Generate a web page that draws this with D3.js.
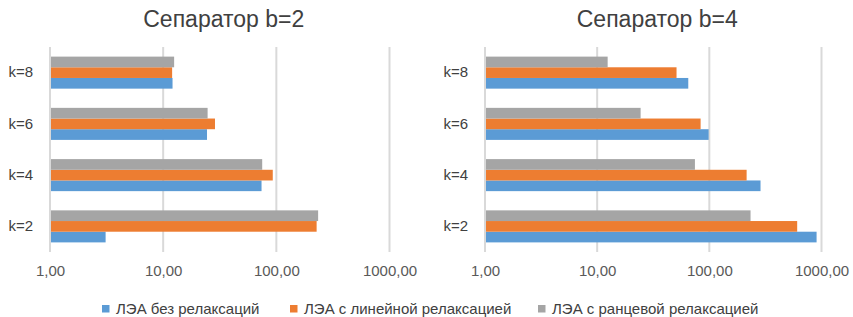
<!DOCTYPE html>
<html>
<head>
<meta charset="utf-8">
<script src="https://cdn.jsdelivr.net/npm/d3@7"></script>
<style>
  body { margin: 0; background: #fff; }
  text { font-family: "Liberation Sans", Arial, sans-serif; }
</style>
</head>
<body>
<div id="chart"></div>
<script>
// data
let categories = ["k=2", "k=4", "k=6", "k=8"];
let seriesNames = ["ЛЭА без релаксаций", "ЛЭА с линейной релаксацией", "ЛЭА с ранцевой релаксацией"];
let tickValues = [1, 10, 100, 1000];

let b2_none   = [3.1, 74, 24.4, 12.1];
let b2_linear = [227, 93, 28.7, 12.0];
let b2_knap   = [234, 75, 24.7, 12.5];

let b4_none   = [904, 286, 98.6, 64.9];
let b4_linear = [607, 215, 83.6, 51];
let b4_knap   = [233, 74.4, 24.4, 12.4];

let panels = [
    {title: "Сепаратор b=2", series: [b2_none, b2_linear, b2_knap], x0: 50, x1: 389.5},
    {title: "Сепаратор b=4", series: [b4_none, b4_linear, b4_knap], x0: 485, x1: 821.5}
];

let colors = ["#5B9BD5", "#ED7D31", "#A5A5A5"];
let width = 853, height = 317;
let plotTop = 47, plotBottom = 252;

let fmt = d3.formatLocale({decimal: ",", thousands: "", grouping: [3], currency: ["", ""]}).format(".2f");

let svg = d3.select("#chart")
    .append("svg")
    .attr("width", width)
    .attr("height", height);

panels.forEach(function (p) {
    let g = svg.append("g");

    let x = d3.scaleLog()
        .domain([1, 1000])
        .range([p.x0, p.x1]);

    // k=8 on top, k=2 at the bottom
    let y = d3.scaleBand()
        .domain(categories.slice().reverse())
        .range([plotTop, plotBottom])
        .paddingInner(0.375)
        .paddingOuter(0.1875);

    // inside each group: gray on top, then orange, then blue
    let y1 = d3.scaleBand()
        .domain([2, 1, 0])
        .range([0, y.bandwidth()]);

    // gridlines
    g.selectAll(".grid")
        .data(tickValues)
        .enter()
        .append("line")
        .attr("x1", d => x(d))
        .attr("x2", d => x(d))
        .attr("y1", plotTop)
        .attr("y2", plotBottom)
        .attr("stroke", "#d9d9d9")
        .attr("stroke-width", 2);

    // bars
    p.series.forEach(function (vals, si) {
        g.selectAll(".bar" + si)
            .data(categories)
            .enter()
            .append("rect")
            .attr("x", x(1) + 1)
            .attr("y", d => y(d) + y1(si))
            .attr("width", (d, i) => x(vals[i]) - x(1) - 1)
            .attr("height", y1.bandwidth())
            .attr("fill", colors[si]);
    });

    // x axis labels
    let xAxis = d3.axisBottom(x)
        .tickValues(tickValues)
        .tickFormat(fmt)
        .tickSize(0)
        .tickPadding(0);
    let ax = g.append("g")
        .attr("transform", "translate(0," + 265 + ")")
        .call(xAxis);
    ax.select(".domain").remove();
    ax.selectAll("text")
        .attr("dy", "0.71em")
        .attr("y", 0)
        .style("font-size", "15px")
        .style("font-family", "'Liberation Sans', Arial, sans-serif")
        .attr("fill", "#595959");

    // category labels
    let yAxis = d3.axisLeft(y).tickSize(0).tickPadding(17);
    let ay = g.append("g")
        .attr("transform", "translate(" + p.x0 + ",0)")
        .call(yAxis);
    ay.select(".domain").remove();
    ay.selectAll("text")
        .style("font-size", "15px")
        .style("font-family", "'Liberation Sans', Arial, sans-serif")
        .attr("fill", "#404040");

    // title
    g.append("text")
        .attr("x", (p.x0 + p.x1) / 2 + 4)
        .attr("y", 27)
        .attr("text-anchor", "middle")
        .style("font-size", "23px")
        .attr("fill", "#404040")
        .text(p.title);
});

// legend
let legendX = [102, 290, 538];
let legend = svg.selectAll(".legend")
    .data(seriesNames)
    .enter()
    .append("g")
    .attr("transform", (d, i) => "translate(" + legendX[i] + ",305)");
legend.append("rect")
    .attr("width", 7.5)
    .attr("height", 7.5)
    .attr("fill", (d, i) => colors[i]);
legend.append("text")
    .attr("x", 14)
    .attr("y", 8.5)
    .style("font-size", "15px")
    .attr("fill", "#404040")
    .text(d => d);
</script>
</body>
</html>
